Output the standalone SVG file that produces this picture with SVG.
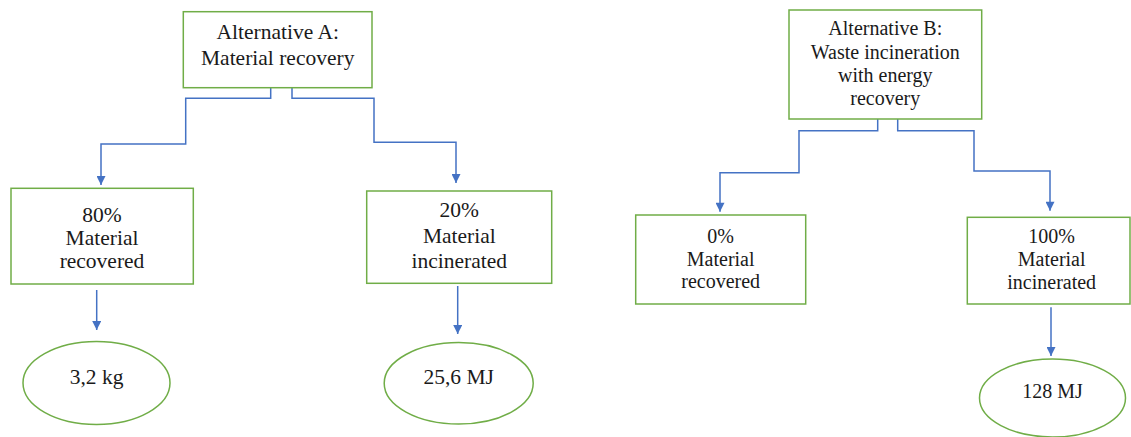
<svg xmlns="http://www.w3.org/2000/svg" width="1131" height="437" viewBox="0 0 1131 437">
  <style>
    .box { fill: #ffffff; stroke: #70AD47; stroke-width: 1.5; }
    .ell { fill: #ffffff; stroke: #70AD47; stroke-width: 1.5; }
    .con { fill: none; stroke: #4472C4; stroke-width: 1.5; }
    text { font-family: 'Liberation Serif', 'DejaVu Serif', 'Times New Roman', Times, serif; fill: #1a1a1a; text-anchor: middle; }
    .tl { font-size: 21.5px; }
    .tr { font-size: 20px; }
  </style>
  <defs>
    <marker id="arrow" viewBox="0 0 10 10" refX="10" refY="5" markerWidth="10" markerHeight="9" markerUnits="userSpaceOnUse" orient="auto">
      <path d="M0,0 L10,5 L0,10 z" fill="#4472C4"/>
    </marker>
  </defs>
  <rect width="1131" height="437" fill="#ffffff"/>

  <g id="connectors">
    <path class="con" d="M270.7,88 V98.3 H185.7 V144 H101 V185" marker-end="url(#arrow)"/>
    <path class="con" d="M292,88 V98.3 H374 V142.3 H456 V183" marker-end="url(#arrow)"/>
    <path class="con" d="M96.7,290 V330" marker-end="url(#arrow)"/>
    <path class="con" d="M457.7,286 V334" marker-end="url(#arrow)"/>
    <path class="con" d="M877.7,119 V130.7 H799 V172.7 H720 V211.7" marker-end="url(#arrow)"/>
    <path class="con" d="M897.7,119 V130.7 H974 V171 H1050 V210.7" marker-end="url(#arrow)"/>
    <path class="con" d="M1051,307.3 V356" marker-end="url(#arrow)"/>
  </g>

  <g id="altA">
    <rect class="box" x="183.3" y="11.7" width="188.7" height="76"/>
    <text class="tl" x="277.7" y="39.3" font-family="Liberation Serif, serif">Alternative A:</text>
    <text class="tl" x="277.7" y="65" font-family="Liberation Serif, serif">Material recovery</text>
  </g>

  <g id="a80">
    <rect class="box" x="11" y="188.3" width="182.3" height="95.7"/>
    <text class="tl" x="102" y="221.7">80%</text>
    <text class="tl" x="102" y="245">Material</text>
    <text class="tl" x="102" y="268">recovered</text>
  </g>

  <g id="a20">
    <rect class="box" x="366.7" y="191" width="185" height="92.3"/>
    <text class="tl" x="459.3" y="217">20%</text>
    <text class="tl" x="459.3" y="242.7">Material</text>
    <text class="tl" x="459.3" y="267.7">incinerated</text>
  </g>

  <g id="a80out">
    <ellipse class="ell" cx="96.5" cy="383" rx="73.5" ry="41.5"/>
    <text class="tl" x="96.5" y="384">3,2 kg</text>
  </g>

  <g id="a20out">
    <ellipse class="ell" cx="458.7" cy="383.3" rx="74.5" ry="40.7"/>
    <text class="tl" x="458.7" y="384">25,6 MJ</text>
  </g>

  <g id="altB">
    <rect class="box" x="789" y="10" width="192.7" height="109"/>
    <text class="tr" x="885.3" y="35">Alternative B:</text>
    <text class="tr" x="885.3" y="58.5">Waste incineration</text>
    <text class="tr" x="885.3" y="82">with energy</text>
    <text class="tr" x="885.3" y="105">recovery</text>
  </g>

  <g id="b0">
    <rect class="box" x="635.7" y="215" width="170" height="89"/>
    <text class="tr" x="720.7" y="243.3">0%</text>
    <text class="tr" x="720.7" y="266">Material</text>
    <text class="tr" x="720.7" y="288.3">recovered</text>
  </g>

  <g id="b100">
    <rect class="box" x="967.3" y="217.3" width="162.7" height="86.7"/>
    <text class="tr" x="1051.7" y="242.7">100%</text>
    <text class="tr" x="1051.7" y="266">Material</text>
    <text class="tr" x="1051.7" y="289">incinerated</text>
  </g>

  <g id="b100out">
    <ellipse class="ell" cx="1052.5" cy="398" rx="73" ry="39"/>
    <text class="tr" x="1052.5" y="397.7">128 MJ</text>
  </g>
</svg>
